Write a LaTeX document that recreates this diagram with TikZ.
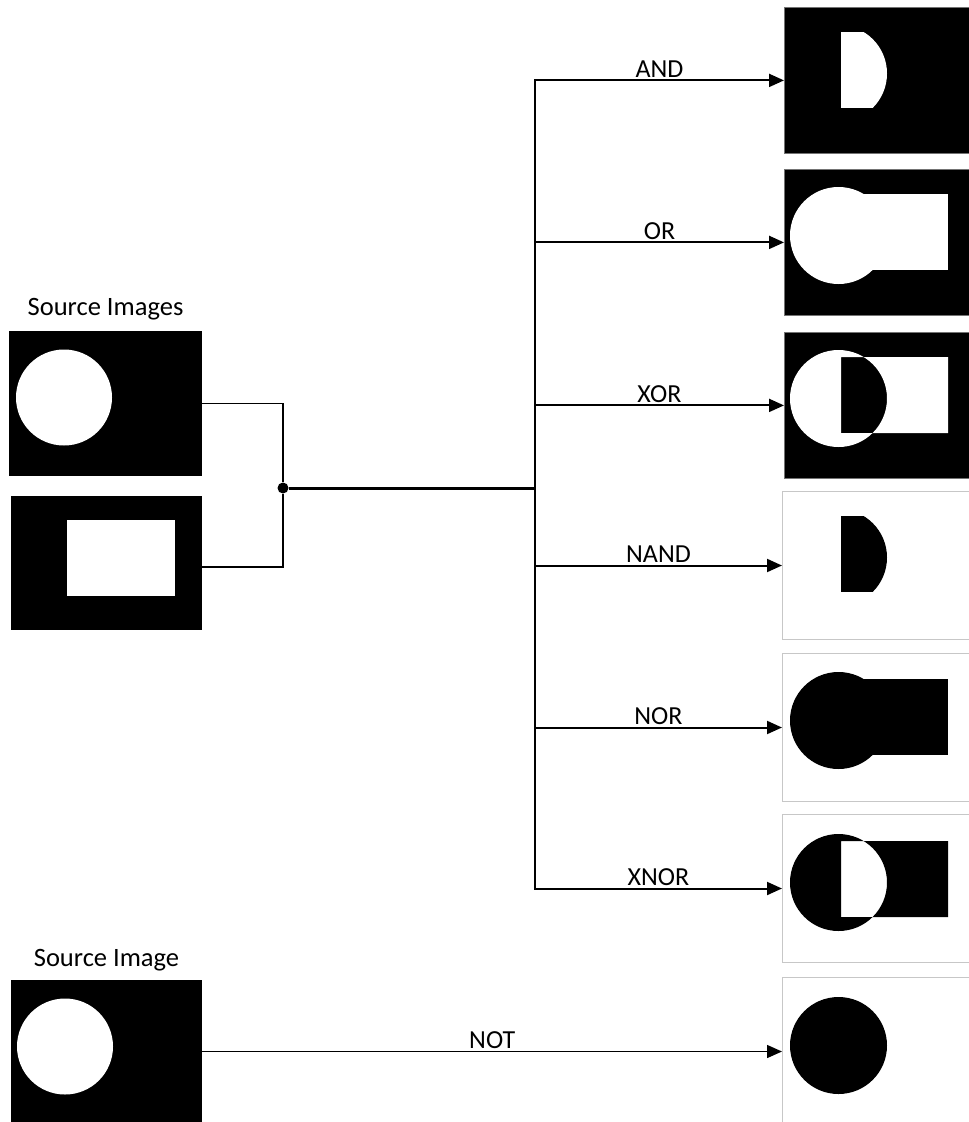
\documentclass[tikz,border=0pt]{standalone}
\usepackage{fontspec}
\setmainfont{Carlito}
\usetikzlibrary{arrows.meta}
\newcommand\opCirc{(54.5,66.5) circle[radius=48.5pt]}
\newcommand\opRect{(57,25) rectangle (164,101)}
\begin{document}
\begin{tikzpicture}[x=1pt,y=-1pt,
  srcbox/.style={fill=black, anchor=north west, inner sep=0pt, minimum width=193pt, minimum height=145pt},
  resdark/.style={fill=black, draw=black!55, line width=0.8pt, anchor=north west, inner sep=0pt, minimum width=186pt, minimum height=146pt},
  reslight/.style={fill=white, draw=black!22, line width=1pt, anchor=north west, inner sep=0pt, minimum width=188pt, minimum height=148pt},
  thinline/.style={line width=1.3pt},
  branch/.style={line width=2pt, -{Triangle[length=15pt,width=13pt]}},
  notline/.style={line width=1.5pt, -{Triangle[length=15pt,width=13pt]}},
  oplbl/.style={midway, anchor=south, inner sep=0pt, yshift=2pt, font=\fontsize{26}{30}\selectfont},
  srclbl/.style={anchor=base, inner sep=0pt, font=\fontsize{26.5}{30}\selectfont}
]
\useasboundingbox (0,0) rectangle (969,1122);

% source images
\node[srclbl] (lab1) at (105.5,315) {Source Images};
\node[srcbox] (s1) at (9,331) {};
\fill[white] (64,397.5) circle[radius=48pt];
\node[srcbox, minimum width=191pt, minimum height=134pt] (s2) at (11,496) {};
\fill[white] (67,520) rectangle (175,596);
\node[srclbl] (lab2) at (106.5,966) {Source Image};
\node[srcbox, minimum width=191pt, minimum height=145pt] (s3) at (11,980) {};
\fill[white] (65,1046.5) circle[radius=48pt];

% result images
\node[resdark] (r1) at (784,7) {};
\begin{scope}[shift={(784,7)}]
  \begin{scope}\clip \opCirc; \fill[white] \opRect; \end{scope}
\end{scope}
\node[resdark] (r2) at (784,169) {};
\begin{scope}[shift={(784,169)}]
  \fill[white] \opCirc; \fill[white] \opRect;
\end{scope}
\node[resdark] (r3) at (784,332) {};
\begin{scope}[shift={(784,332)}]
  \fill[white, even odd rule] \opCirc \opRect;
\end{scope}
\node[reslight] (r4) at (782,491) {};
\begin{scope}[shift={(784,491)}]
  \begin{scope}\clip \opCirc; \fill[black] \opRect; \end{scope}
\end{scope}
\node[reslight] (r5) at (782,653) {};
\begin{scope}[shift={(784,654)}]
  \fill[black] \opCirc; \fill[black] \opRect;
\end{scope}
\node[reslight] (r6) at (782,814) {};
\begin{scope}[shift={(784,816)}]
  \fill[black, even odd rule] \opCirc \opRect;
\end{scope}
\node[reslight] (r7) at (782,977) {};
\begin{scope}[shift={(784,979)}]
  \fill[black] \opCirc;
\end{scope}

% connectors
\node[circle, fill=black, inner sep=0pt, minimum size=11pt] (j) at (283,488) {};
\coordinate (t) at (535,488);
\draw[thinline] (s1.east) -| (j);
\draw[thinline] (s2.east |- 0,567) coordinate (s2o) -| (j);
\draw[line width=3pt] (j) -- (t);
\draw[line width=2pt, line cap=rect] (r1.west -| t) -- (r6.west -| t);
\draw[branch] (r1.west -| t) -- node[oplbl]{AND} (r1.west);
\draw[branch] (r2.west -| t) -- node[oplbl]{OR} (r2.west);
\draw[branch] (r3.west -| t) -- node[oplbl]{XOR} (r3.west);
\draw[branch] (r4.west -| t) -- node[oplbl]{NAND} (r4.west);
\draw[branch] (r5.west -| t) -- node[oplbl]{NOR} (r5.west);
\draw[branch] (r6.west -| t) -- node[oplbl]{XNOR} (r6.west);
\draw[notline] (s3.east |- r7.west) -- node[oplbl]{NOT} (r7.west);
\end{tikzpicture}
\end{document}
